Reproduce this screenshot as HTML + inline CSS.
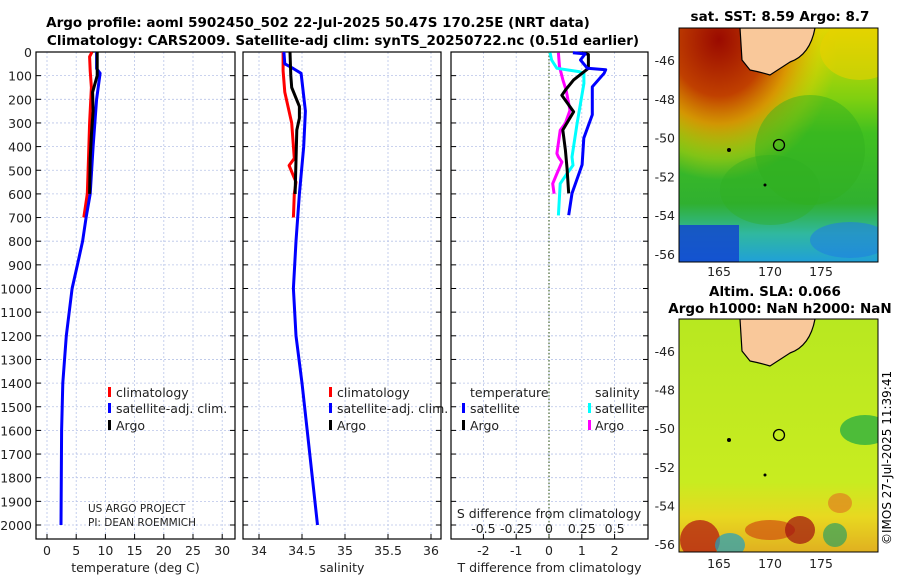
<!DOCTYPE html>
<html><head><meta charset="utf-8">
<style>
body{margin:0;background:#fff;}
svg{font-family:"DejaVu Sans","Liberation Sans",sans-serif;}
</style></head>
<body>
<svg id="fig" width="900" height="580" viewBox="0 0 900 580" xmlns="http://www.w3.org/2000/svg">
<defs>
<radialGradient id="sstRed" cx="0.2" cy="0.05" r="0.6"><stop offset="0" stop-color="#9a0a00"/><stop offset="0.4" stop-color="#c04000"/><stop offset="0.6" stop-color="#e09000" stop-opacity="0.9"/><stop offset="0.85" stop-color="#e8d000" stop-opacity="0.4"/><stop offset="1" stop-color="#e8d000" stop-opacity="0"/></radialGradient>
<linearGradient id="sstBase" x1="0" y1="0" x2="0" y2="1"><stop offset="0" stop-color="#e0d800"/><stop offset="0.3" stop-color="#80d010"/><stop offset="0.45" stop-color="#40c020"/><stop offset="0.75" stop-color="#30b030"/><stop offset="0.88" stop-color="#30b8a0"/><stop offset="1" stop-color="#20a0d8"/></linearGradient>
<linearGradient id="slaBase" x1="0" y1="0" x2="0" y2="1"><stop offset="0" stop-color="#b8e820"/><stop offset="0.7" stop-color="#c8ec20"/><stop offset="0.85" stop-color="#e8d820"/><stop offset="1" stop-color="#e0b020"/></linearGradient>
<clipPath id="c1"><rect x="679" y="28" width="199" height="234"/></clipPath>
<clipPath id="c2"><rect x="679" y="319" width="199" height="233"/></clipPath>
</defs>
<g id="titles" font-weight="bold" font-size="13.5" text-anchor="middle">
<text x="318" y="27">Argo profile: aoml 5902450_502 22-Jul-2025 50.47S 170.25E (NRT data)</text>
<text x="343" y="45">Climatology: CARS2009. Satellite-adj clim: synTS_20250722.nc (0.51d earlier)</text>
<text x="780" y="21">sat. SST: 8.59 Argo: 8.7</text>
<text x="775" y="296">Altim. SLA: 0.066</text>
<text x="780" y="313">Argo h1000: NaN h2000: NaN</text>
</g>
<g id="panels"></g>
<g id="maps">
<g clip-path="url(#c1)">
<rect x="679" y="28" width="199" height="234" fill="url(#sstBase)"/>
<rect x="679" y="28" width="199" height="234" fill="url(#sstRed)"/>
<ellipse cx="860" cy="50" rx="40" ry="30" fill="#e8d000" opacity="0.6"/>
<ellipse cx="810" cy="150" rx="55" ry="55" fill="#30b020" opacity="0.45"/>
<ellipse cx="770" cy="190" rx="50" ry="35" fill="#30b020" opacity="0.4"/>
<rect x="679" y="225" width="60" height="37" fill="#1040d0" opacity="0.8"/>
<ellipse cx="850" cy="240" rx="40" ry="18" fill="#2080e0" opacity="0.6"/>
<path d="M740 28 L815 28 Q810 55 790 62 L770 75 Q760 72 750 70 L742 60 Z" fill="#f9c89a" stroke="#000" stroke-width="1.2"/>
<circle cx="779" cy="145" r="5.5" fill="none" stroke="#000" stroke-width="1.3"/>
<circle cx="729" cy="150" r="2" fill="#000"/><circle cx="765" cy="185" r="1.5" fill="#000"/>
</g>
<g clip-path="url(#c2)">
<rect x="679" y="319" width="199" height="233" fill="url(#slaBase)"/>
<ellipse cx="865" cy="430" rx="25" ry="15" fill="#30b040" opacity="0.8"/>
<ellipse cx="700" cy="540" rx="20" ry="20" fill="#b01010" opacity="0.7"/>
<ellipse cx="730" cy="545" rx="15" ry="12" fill="#20a0c0" opacity="0.7"/>
<ellipse cx="770" cy="530" rx="25" ry="10" fill="#d05010" opacity="0.7"/>
<ellipse cx="800" cy="530" rx="15" ry="14" fill="#a01010" opacity="0.7"/>
<ellipse cx="835" cy="535" rx="12" ry="12" fill="#30a060" opacity="0.7"/>
<ellipse cx="840" cy="503" rx="12" ry="10" fill="#e08020" opacity="0.7"/>
<path d="M740 319 L815 319 Q810 346 790 353 L770 366 Q760 363 750 361 L742 351 Z" fill="#f9c89a" stroke="#000" stroke-width="1.2"/>
<circle cx="779" cy="435" r="5.5" fill="none" stroke="#000" stroke-width="1.3"/>
<circle cx="729" cy="440" r="2" fill="#000"/><circle cx="765" cy="475" r="1.5" fill="#000"/>
</g>
<rect x="679" y="28" width="199" height="234" fill="none" stroke="#000" stroke-width="1"/>
<rect x="679" y="319" width="199" height="233" fill="none" stroke="#000" stroke-width="1"/>
<text x="891" y="545" font-size="12" transform="rotate(-90 891 545)">©IMOS 27-Jul-2025 11:39:41</text>
</g>
<g id="mapticks" font-size="12.5" fill="#222"></g>
</svg>
<script>
// ---------- data ----------
const depthTicks = [0,100,200,300,400,500,600,700,800,900,1000,1100,1200,1300,1400,1500,1600,1700,1800,1900,2000];
const tTicks = [0,5,10,15,20,25,30];
const sTicks = [34,34.5,35,35.5,36];
const dTicks = [-2,-1,0,1,2];
const dsTickLabels = ["-0.5","-0.25","0","0.25","0.5"];
const dsTicks = [-0.5,-0.25,0,0.25,0.5];

const tClimDepth = [0,20,80,150,300,450,600,700];
const tClimVal = [7.7,7.3,7.4,7.6,7.3,7.1,6.9,6.3];
const tArgoDepth = [0,100,170,250,350,450,600];
const tArgoVal = [8.6,8.6,7.8,7.9,7.6,7.4,7.3];
const tSatDepth = [0,70,90,200,400,600,700,800,900,1000,1200,1400,1600,2000];
const tSatVal = [8.5,8.5,9.1,8.5,7.9,7.4,6.7,6.1,5.2,4.3,3.3,2.7,2.5,2.4];

const sClimDepth = [0,80,170,300,450,480,550,600,700];
const sClimVal = [34.28,34.28,34.30,34.38,34.41,34.35,34.43,34.41,34.40];
const sArgoDepth = [0,100,150,230,280,330,600];
const sArgoVal = [34.36,34.37,34.38,34.47,34.47,34.44,34.42];
const sSatDepth = [0,50,70,90,250,400,600,800,1000,1200,1400,1600,2000];
const sSatVal = [34.29,34.30,34.40,34.49,34.54,34.52,34.47,34.43,34.40,34.43,34.50,34.56,34.68];

const dTArgoDepth = [3,10,69,118,161,183,253,330,415,490,598];
const dTArgoVal = [1.0,1.2,1.2,0.75,0.5,0.39,0.75,0.42,0.5,0.55,0.6];
const dTSatDepth = [3,8,34,69,75,90,147,183,265,364,477,598,690];
const dTSatVal = [0.73,1.1,0.96,1.17,1.73,1.68,1.32,1.32,1.32,1.06,1.01,0.7,0.6];
const dSSatDepth = [3,34,69,83,90,133,302,444,479,514,557,691];
const dSSatVal = [0.008,0.02,0.06,0.227,0.266,0.266,0.214,0.175,0.183,0.137,0.085,0.072];
const dSArgoDepth = [3,62,118,161,246,302,331,429,444,465,514,557,599];
const dSArgoVal = [0.072,0.08,0.106,0.13,0.16,0.124,0.085,0.06,0.072,0.098,0.06,0.028,0.039];

const latTicks = [-46,-48,-50,-52,-54,-56];
const lonTicks = [165,170,175];

// ---------- helpers ----------
const NS = "http://www.w3.org/2000/svg";
const g = document.getElementById('panels');
function mk(tag, attrs, parent){ const e=document.createElementNS(NS,tag); for(const k in attrs) e.setAttribute(k,attrs[k]); (parent||g).appendChild(e); return e; }
const TOP=52, BOT=539;
const yD = d => 52 + d*0.2365;

function panel(name, x0, x1, xs, ticks, labels, xlabel){
  const gr = mk('g',{});
  
  
  depthTicks.forEach(d=>{ mk('line',{x1:x0,x2:x1,y1:yD(d),y2:yD(d),stroke:'#b8c4e8','stroke-dasharray':'2,2','stroke-width':0.8},gr);
    mk('line',{x1:x0,x2:x0+5,y1:yD(d),y2:yD(d),stroke:'#000'},gr); mk('line',{x1:x1-5,x2:x1,y1:yD(d),y2:yD(d),stroke:'#000'},gr);});
  ticks.forEach((t,i)=>{ const x=xs(t); mk('line',{x1:x,x2:x,y1:TOP,y2:BOT,stroke:'#b8c4e8','stroke-dasharray':'2,2','stroke-width':0.8},gr);
    mk('line',{x1:x,x2:x,y1:BOT-5,y2:BOT,stroke:'#000'},gr);
    const tx=mk('text',{x:x,y:555,'font-size':12.5,'text-anchor':'middle',fill:'#222'},gr); tx.textContent=labels[i];
    
    
  });
  mk('rect',{x:x0,y:TOP,width:x1-x0,height:BOT-TOP,fill:'none',stroke:'#000','stroke-width':1.2},gr);
  const xl=mk('text',{x:(x0+x1)/2,y:572,'font-size':12.5,'text-anchor':'middle',fill:'#222'},gr); xl.textContent=xlabel;
  
  
  return gr;
}
function line(gr, name, depths, vals, xs, color){
  const pts = depths.map((d,i)=>xs(vals[i]).toFixed(1)+','+yD(d).toFixed(1)).join(' ');
  const p = mk('polyline',{points:pts,fill:'none',stroke:color,'stroke-width':3,'stroke-linejoin':'round'},gr);
  
  
}
function text(gr, x, y, s, name, size, anchor){
  const t=mk('text',{x:x,y:y,'font-size':size||12.5,'text-anchor':anchor||'start',fill:'#222'},gr); t.textContent=s;
  
  
}
function legendMark(gr,x,y,color){ mk('rect',{x:x,y:y-10,width:3,height:10,fill:color},gr); }

depthTicks.forEach(d=>{ const t=mk('text',{x:32,y:yD(d)+5,'font-size':12.5,'text-anchor':'end',fill:'#222'}); t.textContent=d;
  
   });

const xT = v => 47 + v*5.84;
const p1 = panel('temperature-panel', 36, 235, xT, tTicks, tTicks.map(String), 'temperature (deg C)');
line(p1,'temp-climatology-line',tClimDepth,tClimVal,xT,'#f00');
line(p1,'temp-satellite-line',tSatDepth,tSatVal,xT,'#00f');
line(p1,'temp-argo-line',tArgoDepth,tArgoVal,xT,'#000');
legendMark(p1,108,397,'#f00'); text(p1,116,397,'climatology','temp-legend-climatology');
legendMark(p1,108,413,'#00f'); text(p1,116,413,'satellite-adj. clim.','temp-legend-satellite');
legendMark(p1,108,430,'#000'); text(p1,116,430,'Argo','temp-legend-argo');
text(p1,88,512,'US ARGO PROJECT','project-label',10.5);
text(p1,88,526,'PI: DEAN ROEMMICH','pi-label',10.5);

const xS = v => 259 + (v-34)*86;
const p2 = panel('salinity-panel', 243, 441, xS, sTicks, ['34','34.5','35','35.5','36'], 'salinity');
line(p2,'sal-climatology-line',sClimDepth,sClimVal,xS,'#f00');
line(p2,'sal-satellite-line',sSatDepth,sSatVal,xS,'#00f');
line(p2,'sal-argo-line',sArgoDepth,sArgoVal,xS,'#000');
legendMark(p2,329,397,'#f00'); text(p2,337,397,'climatology','sal-legend-climatology');
legendMark(p2,329,413,'#00f'); text(p2,337,413,'satellite-adj. clim.','sal-legend-satellite');
legendMark(p2,329,430,'#000'); text(p2,337,430,'Argo','sal-legend-argo');

const xDT = v => 549 + v*32.8;
const xDS = v => 549 + v*4*32.8;
const p3 = panel('difference-panel', 451, 648, xDT, dTicks, dTicks.map(String), 'T difference from climatology');
mk('line',{x1:549,x2:549,y1:TOP,y2:BOT,stroke:'#4a6a30','stroke-dasharray':'1.5,2','stroke-width':1.2},p3);
line(p3,'sal-diff-argo-line',dSArgoDepth,dSArgoVal,xDS,'#f0f');
line(p3,'sal-diff-satellite-line',dSSatDepth,dSSatVal,xDS,'#0ff');
line(p3,'temp-diff-argo-line',dTArgoDepth,dTArgoVal,xDT,'#000');
line(p3,'temp-diff-satellite-line',dTSatDepth,dTSatVal,xDT,'#00f');
text(p3,470,397,'temperature','diff-legend-temperature-header');
legendMark(p3,462,413,'#00f'); text(p3,470,413,'satellite','diff-legend-temp-satellite');
legendMark(p3,462,430,'#000'); text(p3,470,430,'Argo','diff-legend-temp-argo');
text(p3,595,397,'salinity','diff-legend-salinity-header');
legendMark(p3,588,413,'#0ff'); text(p3,595,413,'satellite','diff-legend-sal-satellite');
legendMark(p3,588,430,'#f0f'); text(p3,595,430,'Argo','diff-legend-sal-argo');
text(p3,549,518,'S difference from climatology','s-diff-axis-title',12.5,'middle');
dsTicks.forEach((v,i)=>{ text(p3,xDS(v),533,dsTickLabels[i],'s-diff-tick-label',12.5,'middle'); });

const mt = document.getElementById('mapticks');
latTicks.forEach(l=>{ [[28,262],[319,552]].forEach(([t,b])=>{
  const y = t + 32 + (-46-l)*((b-t-40)/10);
  const e=mk('text',{x:675,y:y+5,'text-anchor':'end'},mt); e.textContent=String(l);
  
  
});});
lonTicks.forEach(l=>{ [276,568].forEach(y=>{
  const e=mk('text',{x:719+(l-165)*10.2,y:y,'text-anchor':'middle'},mt); e.textContent=l;
  
  
});});
</script>
</body></html>
